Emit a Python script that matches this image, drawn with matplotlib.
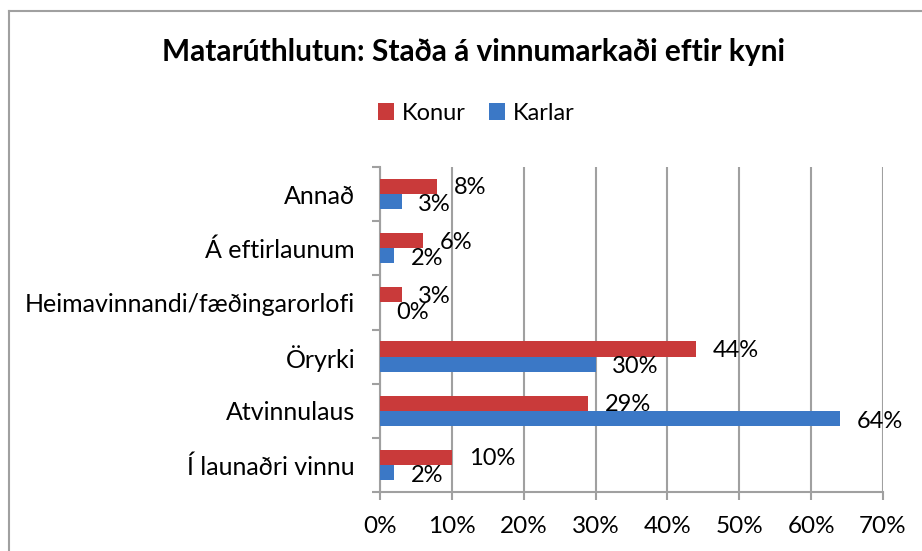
import numpy as np
import matplotlib
matplotlib.use("Agg")
import matplotlib.pyplot as plt
from matplotlib.ticker import PercentFormatter

plt.rcParams['font.family'] = ['Lato', 'DejaVu Sans']

# gögn
categories = ['Í launaðri vinnu', 'Atvinnulaus', 'Öryrki',
              'Heimavinnandi/fæðingarorlofi', 'Á eftirlaunum', 'Annað']
konur = [10, 29, 44, 3, 6, 8]
karlar = [2, 64, 30, 0, 2, 3]
xticks = [0, 10, 20, 30, 40, 50, 60, 70]

red = '#C93A3A'
blue = '#3B78C6'
grey = '#A0A0A0'

fig = plt.figure(figsize=(9.22, 5.51), dpi=100)
ax = fig.add_axes([380/922, 1-492/551, 503/922, 325/551])

y = np.arange(len(categories))
h = 0.28
ax.barh(y + h/2, konur, height=h, color=red, label='Konur', zorder=3)
ax.barh(y - h/2, karlar, height=h, color=blue, label='Karlar', zorder=3)

# merki við enda súlna
for i in range(len(categories)):
    ax.annotate(f'{konur[i]}%', (konur[i], y[i] + h/2), xytext=(12, -1),
                textcoords='offset points', va='center', ha='left', fontsize=17)
    ax.annotate(f'{karlar[i]}%', (karlar[i], y[i] - h/2), xytext=(12, -2),
                textcoords='offset points', va='center', ha='left', fontsize=17)

ax.set_xlim(0, 70)
ax.set_ylim(-0.5, len(categories) - 0.5)
ax.set_xticks(xticks)
ax.xaxis.set_major_formatter(PercentFormatter(decimals=0))
ax.set_yticks(y)
ax.set_yticklabels(categories)
ax.set_yticks(np.arange(len(categories) + 1) - 0.5, minor=True)
ax.tick_params(axis='y', which='major', length=0, pad=18, labelsize=18)
ax.tick_params(axis='y', which='minor', length=6, color=grey, width=1.5)
ax.tick_params(axis='x', length=6, color=grey, width=1.5, pad=11, labelsize=17.5)

ax.grid(axis='x', color=grey, linewidth=1.5, zorder=0)
for s in ['top', 'right']:
    ax.spines[s].set_visible(False)
for s in ['left', 'bottom']:
    ax.spines[s].set_color(grey)
    ax.spines[s].set_linewidth(1.5)

fig.text(473/922, 1-52/551, 'Matarúthlutun: Staða á vinnumarkaði eftir kyni',
         ha='center', va='center', fontsize=21.5, fontweight='bold')

handles, labels = ax.get_legend_handles_labels()
fig.legend(handles, labels, loc='center', bbox_to_anchor=(476/922, 1-113/551),
           ncol=2, frameon=False, fontsize=17, handlelength=0.7, handleheight=0.7,
           handletextpad=0.3, columnspacing=1.0)

# rammi utan um myndina
fig.add_artist(plt.Line2D([9/922, 9/922], [0, 1-11/551], color=grey, linewidth=1.5,
                          transform=fig.transFigure))
fig.add_artist(plt.Line2D([9/922, 1], [1-11/551, 1-11/551], color=grey, linewidth=1.5,
                          transform=fig.transFigure))

fig.savefig('out.png', dpi=100)
